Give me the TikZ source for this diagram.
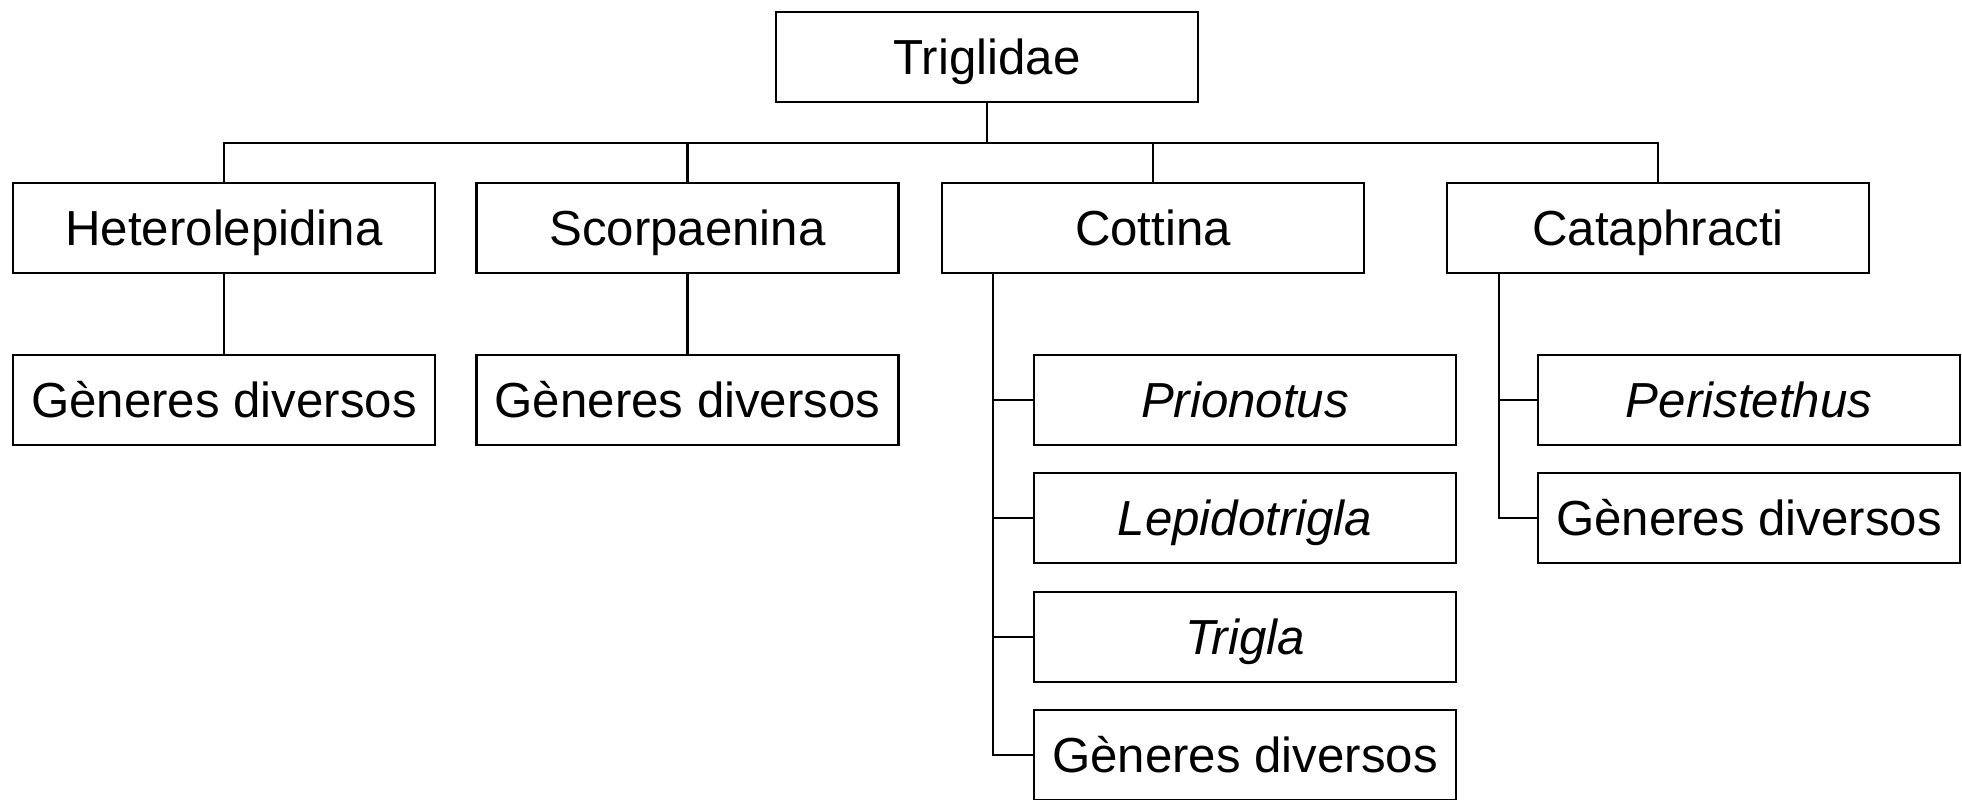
\documentclass[tikz,border=0pt]{standalone}
\usepackage{fontspec}
\setmainfont{Liberation Sans}
\usepackage{tikz}

\begin{document}
\begin{tikzpicture}[box/.style={draw, line width=0.8pt, minimum width=4.22cm, minimum height=0.9cm, inner sep=0pt, text height=10pt, text depth=0pt, font=\fontsize{14}{17}\selectfont},
    link/.style={line width=0.6pt}]
\useasboundingbox (0,0) rectangle (19.62,-7.99);

    \node[box] (tri) at (9.87,-0.57) {Triglidae};

    \node[box] (het) at (2.24,-2.28) {Heterolepidina};
    \node[box] (sco) at (6.875,-2.28) {Scorpaenina};
    \node[box] (cot) at (11.53,-2.28) {Cottina};
    \node[box] (cat) at (16.58,-2.28) {Cataphracti};

    \node[box] (hetg) at (2.24,-4.00) {Gèneres diversos};
    \node[box] (scog) at (6.875,-4.00) {Gèneres diversos};

    \node[box] (pri) at (12.45,-4.00) {\itshape Prionotus};
    \node[box] (lep) at (12.45,-5.18) {\itshape Lepidotrigla};
    \node[box] (trg) at (12.45,-6.37) {\itshape Trigla};
    \node[box] (cotg) at (12.45,-7.55) {Gèneres diversos};

    \node[box] (per) at (17.49,-4.00) {\itshape Peristethus};
    \node[box] (catg) at (17.49,-5.18) {Gèneres diversos};

    % the bar under Triglidae
    \coordinate (bar) at (0,-1.43);
    \draw[link] (tri.south) -- (tri.south |- bar);
    \draw[link] (het.north) |- (cat.north |- bar) -- (cat.north);
    \draw[link] (sco.north) -- (sco.north |- bar);
    \draw[link] (cot.north) -- (cot.north |- bar);

    \draw[link] (het.south) -- (hetg.north);
    \draw[link] (sco.south) -- (scog.north);

    % trunks of Cottina and Cataphracti
    \coordinate (cotk) at (9.93,-2.73);
    \coordinate (catk) at (14.99,-2.73);
    \draw[link] (cotk) |- (cotg.west);
    \draw[link] (cotk |- pri.west) -- (pri.west);
    \draw[link] (cotk |- lep.west) -- (lep.west);
    \draw[link] (cotk |- trg.west) -- (trg.west);
    \draw[link] (catk) |- (catg.west);
    \draw[link] (catk |- per.west) -- (per.west);

\end{tikzpicture}
\end{document}
